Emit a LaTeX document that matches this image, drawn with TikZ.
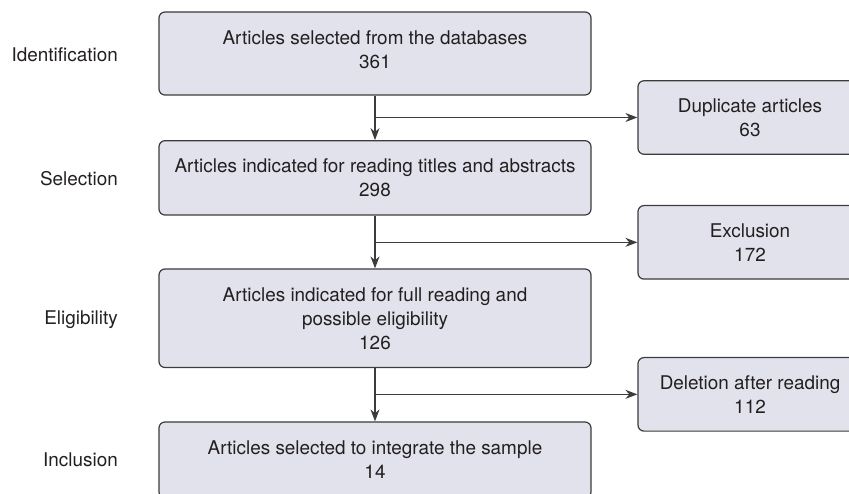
\documentclass[tikz,border=0pt]{standalone}
\usepackage{fontspec}
\setmainfont{TeX Gyre Heros}
\usetikzlibrary{arrows.meta}
\definecolor{boxfill}{HTML}{E2E2EC}
\definecolor{boxline}{HTML}{3C3C3C}
\definecolor{txt}{HTML}{231F20}
\tikzset{
  mainbox/.style={draw=boxline, fill=boxfill, line width=1.2pt, rounded corners=6pt,
    minimum width=432pt, align=center, inner sep=0pt, text=txt,
    font=\fontsize{18.9}{24}\selectfont},
  sidebox/.style={draw=boxline, fill=boxfill, line width=1.2pt, rounded corners=6pt,
    minimum width=224pt, minimum height=73.5pt, align=center, inner sep=0pt, text=txt,
    font=\fontsize{18.9}{24}\selectfont},
  boxtext/.style={align=center, inner sep=0pt, text=txt, font=\fontsize{18.9}{24}\selectfont},
  stage/.style={anchor=east, inner sep=0pt, text=txt, font=\fontsize{18.9}{24}\selectfont},
  conn/.style={draw=boxline, line width=1.2pt},
  arr/.style={conn, -{Stealth[length=12pt, width=9pt]}}
}
\begin{document}
\begin{tikzpicture}[x=1pt, y=-1pt]
\useasboundingbox (0,0) rectangle (849,494);
\clip (0,0) rectangle (849,494);
\node[mainbox, minimum height=83pt] (b1) at (375,53.5) {};
\node[boxtext] (t1) at (375,49.5) {Articles selected from the databases\\361};
\node[mainbox, minimum height=74.3pt] (b2) at (375,177.85) {Articles indicated for reading titles and abstracts\\298};
\node[mainbox, minimum height=98.5pt] (b3) at (375,318.25) {Articles indicated for full reading and\\possible eligibility\\126};
\node[mainbox, minimum height=76pt] (b4) at (375,460) {Articles selected to integrate the sample\\14};
\node[sidebox] (s1) at (750,117.5) {Duplicate articles\\63};
\node[sidebox] (s2) at (750,242.35) {Exclusion\\172};
\node[sidebox] (s3) at (750,394.35) {Deletion after reading\\112};
\node[stage] (l1) at (118,55) {Identification};
\node[stage] (l2) at (118,179) {Selection};
\node[stage] (l3) at (118,320) {Eligibility};
\node[stage] (l4) at (118,460) {Inclusion};
\coordinate (j1) at (b1.south |- s1.west);
\coordinate (j2) at (b2.south |- s2.west);
\coordinate (j3) at (b3.south |- s3.west);
\draw[arr] (b1.south) -- (b2.north);
\draw[arr] (b2.south) -- (b3.north);
\draw[arr] (b3.south) -- (b4.north);
\draw[arr] (j1) -- (s1.west);
\draw[arr] (j2) -- (s2.west);
\draw[arr] (j3) -- (s3.west);
\end{tikzpicture}
\end{document}
